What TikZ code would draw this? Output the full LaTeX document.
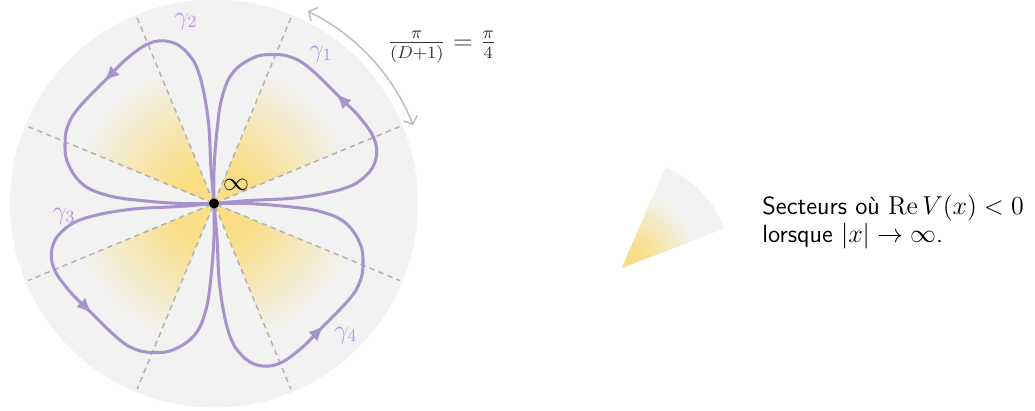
\documentclass[tikz,border=0pt]{standalone}
\usepackage{amsmath,amssymb}
\usetikzlibrary{arrows.meta,decorations.markings}

\definecolor{diskgray}{RGB}{242,242,242}
\definecolor{secyellow}{RGB}{249,222,135}
\definecolor{loopviolet}{RGB}{166,147,203}
\definecolor{labelviolet}{RGB}{183,146,222}
\definecolor{raygray}{RGB}{178,178,178}
\definecolor{arcgray}{RGB}{190,190,190}
\definecolor{fracgray}{RGB}{51,51,51}
\pgfdeclareradialshading{sectorfade}{\pgfpoint{0bp}{0bp}}{color(0bp)=(secyellow); color(7bp)=(secyellow); color(24bp)=(diskgray); color(50bp)=(diskgray)}

\tikzset{
  ray/.style={raygray, line width=0.7pt, dash pattern=on 2.5pt off 2pt},
  loopline/.style={loopviolet, line width=1.4pt, line join=round,
    postaction={decorate, decoration={markings, mark=at position 0.5 with {\arrow{Latex[length=7pt,width=6pt]}}}}},
  looplabel/.style={text=labelviolet, inner sep=0.75pt},
  arcarrow/.style={arcgray, line width=0.7pt, {Straight Barb[length=3pt,width=7pt]}-{Straight Barb[length=3pt,width=7pt]}},
  every node/.style={font=\fontsize{11.5}{11.6}\selectfont},
}

\begin{document}
\begin{tikzpicture}[x=0.463pt,y=0.463pt,yscale=-1]
\useasboundingbox (0,0) rectangle (1035,410);
%Shape: Circle [disk]
\fill[diskgray] (214,203.5) circle (204);

\begin{scope}[shift={(214,203.5)},yscale=-1]
%Shape: Sectors
\foreach \a in {22.5,112.5,202.5,292.5}{
  \begin{scope}
    \clip (0,0) -- (\a:205) arc[start angle=\a, delta angle=45, radius=205] -- cycle;
    \shade[shading=sectorfade] (0,0) circle (150);
  \end{scope}
}
%Straight Lines [rays]
\foreach \a in {22.5,67.5,112.5,157.5}
  \draw[ray] (\a:201) -- (\a+180:201);
%Curve Lines [loops]
\foreach \r in {0,90,180,270}
  \draw[loopline, rotate=\r] plot[smooth, tension=0.65] coordinates {(0,0) (35,3) (85,6) (130,15) (152,28) (162,45) (160,65) (145,87) (125,107) (96,135) (78,146) (60,149) (40,146) (19,131) (8,106) (3,73) (0,33) (0,0)};
%Shape: Circle [point at infinity]
\fill (0,0) circle (5);
%Curve Lines [angle]
\draw[arcarrow] (21.5:214) arc[start angle=21.5, end angle=64, radius=214];
\end{scope}

%Shape: Sector [legend]
\begin{scope}[shift={(621.7,268)},yscale=-1,scale=0.55]
  \clip (0,0) -- (21:200) arc[start angle=21, end angle=66.5, radius=200] -- cycle;
  \fill[diskgray] (0,0) circle (205);
  \shade[shading=sectorfade] (0,0) circle (150);
\end{scope}

% Text Node
\node[looplabel] (gamma1) at (321,54) {$\gamma_1$};
% Text Node
\node[looplabel] (gamma2) at (186,21) {$\gamma_2$};
% Text Node
\node[looplabel] (gamma3) at (64,216) {$\gamma_3$};
% Text Node
\node[looplabel] (gamma4) at (346,335) {$\gamma_4$};
% Text Node
\node[inner sep=0.75pt] (infty) at (236,185) {$\infty$};
% Text Node
\node[text=fracgray, inner sep=0.75pt] (angle) at (442,47) {$\frac{\pi}{(D+1)} = \frac{\pi}{4}$};
% Text Node
\node[anchor=north west, inner sep=0pt, align=left, font=\fontsize{11.5}{11.6}\selectfont\sffamily] (legend) at (762,195) {Secteurs où $\operatorname{Re} V(x) < 0$\\lorsque $|x| \to \infty$.};

\end{tikzpicture}
\end{document}
